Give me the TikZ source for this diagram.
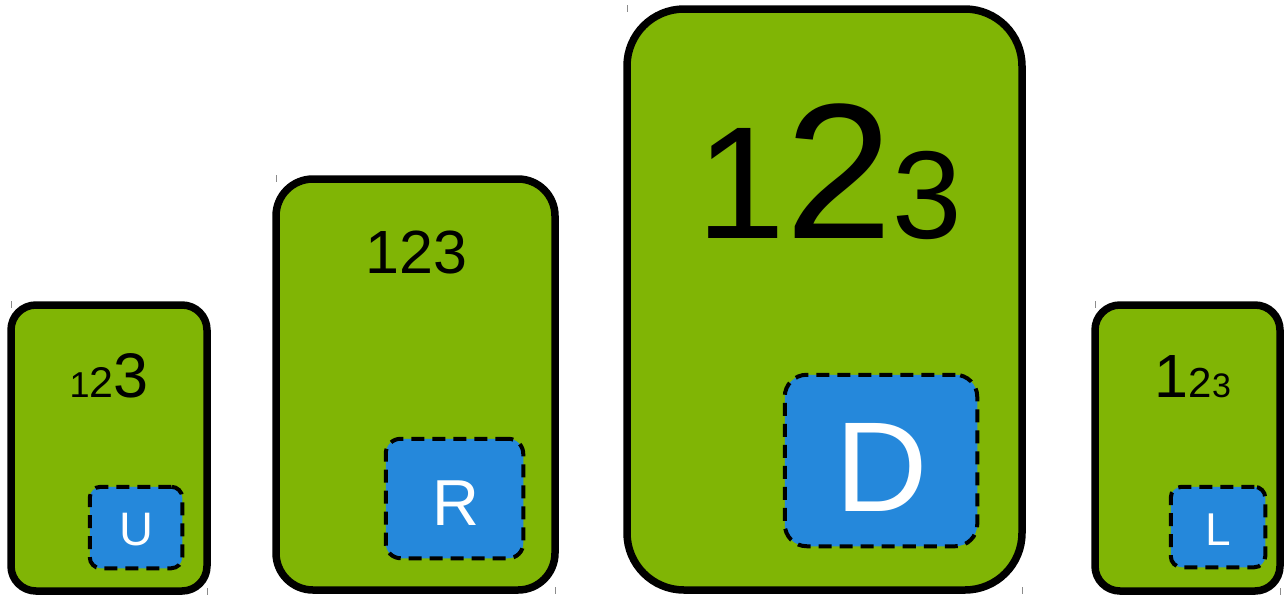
\documentclass[tikz,border=0pt]{standalone}
\usepackage{fontspec}
\setmainfont{Liberation Sans}
\usepackage{tikz}
\usetikzlibrary{positioning}
\usepackage{xcolor}

\definecolor{cardgreen}{HTML}{80B505}
\definecolor{keyblue}{HTML}{2588DB}

% digit at a given size (in pt)
\newcommand{\dg}[2]{{\fontsize{#1}{#1}\selectfont #2}}

\begin{document}
\begin{tikzpicture}[x=1pt, y=-1pt,
            card/.style = {draw, fill=cardgreen, line width=7.5pt, inner sep=0pt, outer sep=0pt},
            key/.style = {draw, fill=keyblue, line width=4pt, dash pattern=on 13pt off 8pt, inner sep=0pt},
            digits/.style = {anchor=base, inner sep=0pt},
            letter/.style = {anchor=base, inner sep=0pt, text=white},
            tick/.style = {black!45, line width=1pt}
            ]
            \useasboundingbox (0,0) rectangle (1284,595);

            % the four cards
            \node[card, rounded corners=25pt, minimum width=196pt, minimum height=286pt] (cardU) at (109,448) {};
            \node[card, rounded corners=37pt, minimum width=279pt, minimum height=411pt] (cardR) at (415.5,384.5) {};
            \node[card, rounded corners=57pt, minimum width=395pt, minimum height=581pt] (cardD) at (824.5,299.5) {};
            \node[card, rounded corners=25pt, minimum width=185pt, minimum height=286pt] (cardL) at (1187.5,448) {};

            % blue keys
            \node[key, rounded corners=11pt, minimum width=92.5pt, minimum height=81.5pt] (keyU) at (136,527.5) {};
            \node[key, rounded corners=15pt, minimum width=137.5pt, minimum height=119.5pt] (keyR) at (454.5,498.5) {};
            \node[key, rounded corners=22pt, minimum width=192.5pt, minimum height=171.5pt] (keyD) at (881,460.5) {};
            \node[key, rounded corners=11pt, minimum width=94.5pt, minimum height=80.5pt] (keyL) at (1218,527) {};

            \node[letter] (U) at (136.5,545.5) {\dg{47}{U}};
            \node[letter] (R) at (456,525) {\dg{65}{R}};
            \node[letter] (D) at (882,511.5) {\dg{128}{D}};
            \node[letter] (L) at (1218,545) {\dg{46}{L}};

            % numbers
            \node[digits] (numU) at (109,397) {\dg{36}{1}\dg{43}{2}\dg{63}{3}};
            \node[digits] (numR) at (416.5,273) {\dg{61}{123}};
            \node[digits] (numD) at (829,238) {\dg{160}{1}\dg{193}{2}\dg{125}{3}};
            \node[digits] (numL) at (1193,397) {\dg{61}{1}\dg{42}{2}\dg{34}{3}};

            % corner marks
            \foreach \c in {cardU, cardR, cardD, cardL} {
                \draw[tick] ([yshift=4pt]\c.north west) -- ([yshift=-3pt]\c.north west);
                \draw[tick] ([yshift=3pt]\c.south east) -- ([yshift=-4pt]\c.south east);
            }
        \end{tikzpicture}
\end{document}
